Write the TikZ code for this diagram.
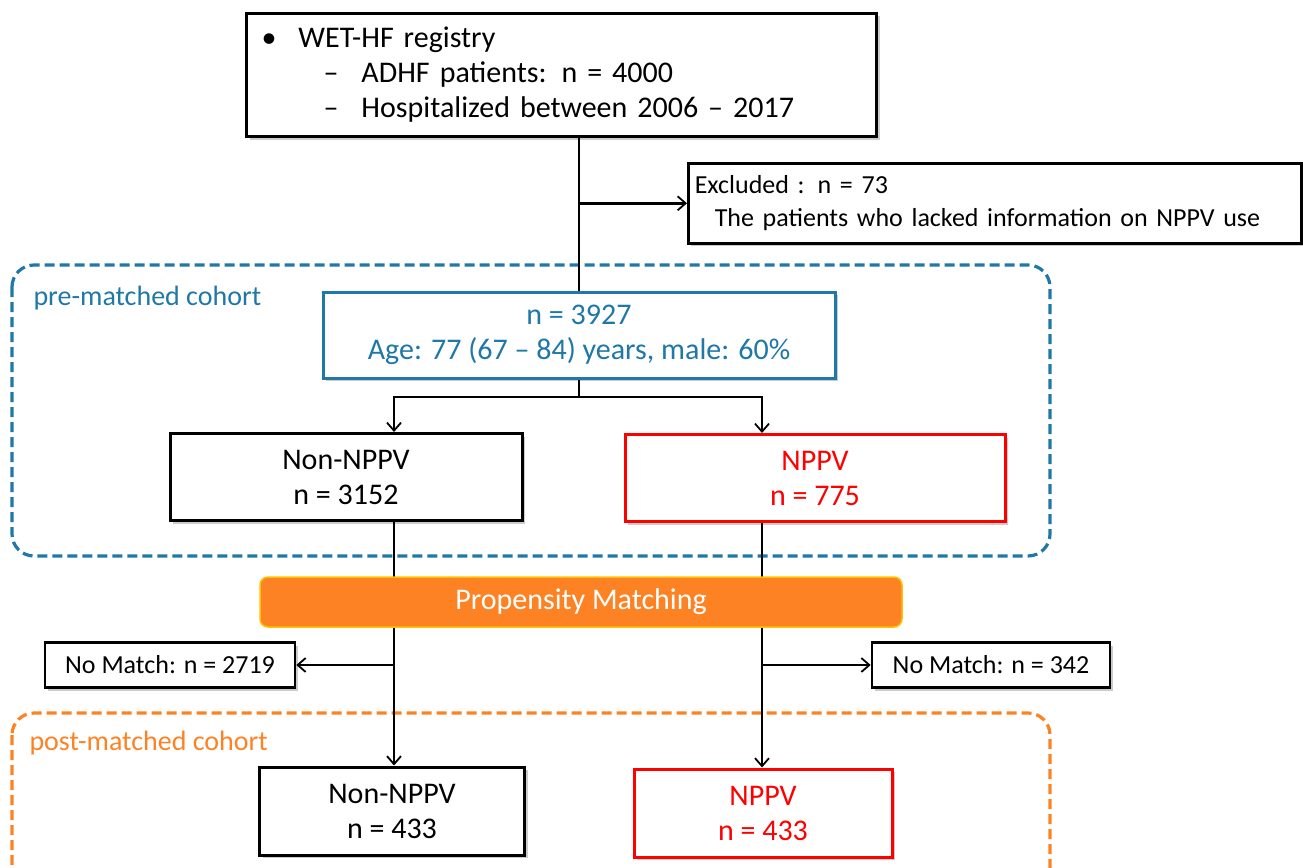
\documentclass[tikz,border=0pt]{standalone}
\usepackage{fontspec}
\setmainfont{Carlito}
\usetikzlibrary{arrows.meta,shadows}
\definecolor{cohblue}{RGB}{31,120,168}
\definecolor{matchorange}{RGB}{253,130,36}
\definecolor{barline}{RGB}{255,192,0}
\definecolor{nppvred}{RGB}{255,0,0}
\newcommand\txtbig{\fontsize{30}{35}\selectfont}
\newcommand\txtsmall{\fontsize{26}{33}\selectfont}
\newcommand\txtlabel{\fontsize{28}{34}\selectfont}
\begin{document}
\begin{tikzpicture}[x=1pt,y=-1pt,>={Straight Barb[length=8pt,width=14pt,line width=1.8pt]},
  shade/.style={drop shadow={shadow xshift=3pt,shadow yshift=-3pt,fill=black!45,opacity=.45}},
  box/.style={draw,line width=3pt,fill=white,inner sep=0pt,shade,align=center,font=\txtbig},
  redbox/.style={box,draw=nppvred,text=nppvred},
  link/.style={line width=2.6pt},
  cohort/.style={line width=3.2pt,dash pattern=on 10pt off 5pt,rounded corners=22pt}]
\useasboundingbox (0,0) rectangle (1303,867);

\draw[cohort,cohblue] (12,265) rectangle (1050,556);
\node[anchor=west,text=cohblue,font=\txtlabel] (prelabel) at (30,298) {pre-matched cohort};
\draw[cohort,matchorange] (12,713) rectangle (1050,930);
\node[anchor=west,text=matchorange,font=\txtlabel] (postlabel) at (26,743) {post-matched cohort};

\node[box,anchor=north west,minimum width=630,minimum height=123,text width=600,align=left] (registry) at (245,12)
  {\makebox[37pt][l]{\textbullet}WET-HF registry\\
   \hspace*{62pt}\makebox[38pt][l]{\textendash}ADHF patients: n = 4000\\
   \hspace*{62pt}\makebox[38pt][l]{\textendash}Hospitalized between 2006 \textendash{} 2017};
\node[box,anchor=north west,minimum width=613,minimum height=80,text width=600,align=left,font=\txtsmall,line width=2.6pt] (excl) at (687,162)
  {Excluded : n = 73\\\hspace*{20pt}The patients who lacked information on NPPV use};

\node[box,draw=cohblue,text=cohblue,minimum width=512,minimum height=86] (all) at (579,335)
  {n = 3927\\Age: 77 (67 \textendash{} 84) years, male: 60\%};
\node[box,minimum width=352,minimum height=87] (non1) at (346,477) {Non-NPPV\\n = 3152};
\node[redbox,minimum width=380,minimum height=87] (nppv1) at (815,478) {NPPV\\n = 775};

\node[box,font=\txtsmall,line width=2.6pt,minimum width=250,minimum height=45] (nomL) at (170,665) {No Match: n = 2719};
\node[box,font=\txtsmall,line width=2.6pt,minimum width=238,minimum height=45] (nomR) at (991,665) {No Match: n = 342};

\node[box,minimum width=265,minimum height=88] (non2) at (392,811) {Non-NPPV\\n = 433};
\node[redbox,minimum width=258,minimum height=88] (nppv2) at (763,813) {NPPV\\n = 433};

\coordinate (colL) at (394,0);
\coordinate (colR) at (762,0);
\coordinate (exclfork) at (all.north |- excl.west);
\coordinate (fork) at (579,397);

\draw[link] (registry.south -| all.north) -- (all.north);
\draw[link,->] (exclfork) -- (excl.west);
\draw[link] (all.south) -- (fork);
\draw[link,->] (fork) -| (colL |- non1.north);
\draw[link,->] (fork) -| (colR |- nppv1.north);

\draw[link,->] (colL |- non1.south) -- (colL |- non2.north);
\draw[link,->] (colR |- nppv1.south) -- (colR |- nppv2.north);
\draw[link,->] (colL |- nomL.east) -- (nomL.east);
\draw[link,->] (colR |- nomR.west) -- (nomR.west);

\node[draw=barline,fill=matchorange,line width=1.5pt,rounded corners=8pt,minimum width=642,minimum height=50,text=white,font=\txtbig] (psm) at (581,602) {Propensity Matching};
\end{tikzpicture}
\end{document}
